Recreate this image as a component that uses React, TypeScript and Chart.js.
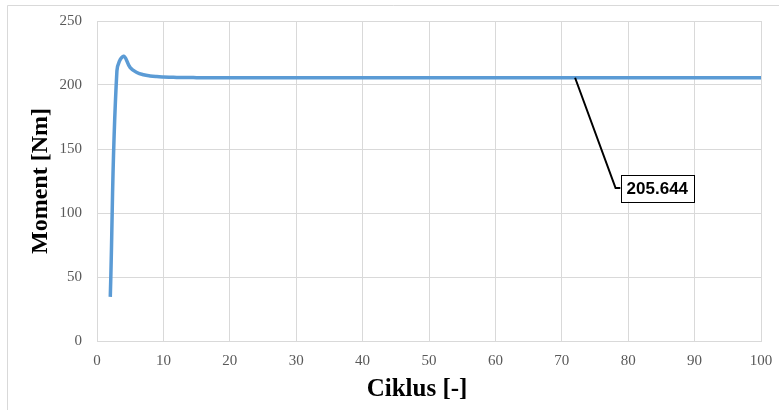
import React, { useEffect, useRef } from "react";
import { Chart, registerables } from "chart.js";

Chart.register(...registerables);

const cycles: number[] = [
  2, 3, 4, 5, 6, 7, 8, 9, 10, 11, 12, 13, 14, 15, 16, 17, 18, 19, 20,
  21, 22, 23, 24, 25, 26, 27, 28, 29, 30, 31, 32, 33, 34, 35, 36, 37, 38, 39, 40,
  41, 42, 43, 44, 45, 46, 47, 48, 49, 50, 51, 52, 53, 54, 55, 56, 57, 58, 59, 60,
  61, 62, 63, 64, 65, 66, 67, 68, 69, 70, 71, 72, 73, 74, 75, 76, 77, 78, 79, 80,
  81, 82, 83, 84, 85, 86, 87, 88, 89, 90, 91, 92, 93, 94, 95, 96, 97, 98, 99, 100,
];

const moment: number[] = [
  34.5, 211.0, 222.5, 213.5, 209.8, 208.0, 207.1, 206.6, 206.3, 206.1, 205.95, 205.85, 205.8, 205.75, 205.72, 205.7, 205.7, 205.68, 205.7,
  205.68, 205.67, 205.67, 205.66, 205.66, 205.66, 205.65, 205.66, 205.65, 205.65, 205.65, 205.66, 205.65, 205.65, 205.64, 205.65, 205.65, 205.64, 205.65, 205.66,
  205.65, 205.64, 205.65, 205.64, 205.65, 205.64, 205.64, 205.65, 205.64, 205.64, 205.65, 205.64, 205.64, 205.64, 205.65, 205.64, 205.64, 205.64, 205.65, 205.64,
  205.64, 205.65, 205.64, 205.64, 205.64, 205.64, 205.65, 205.64, 205.64, 205.64, 205.64, 205.644, 205.64, 205.64, 205.65, 205.64, 205.64, 205.64, 205.64, 205.65,
  205.64, 205.64, 205.64, 205.64, 205.65, 205.64, 205.64, 205.64, 205.64, 205.64, 205.65, 205.64, 205.64, 205.64, 205.64, 205.64, 205.65, 205.64, 205.64, 205.64,
];

const xTicks = { min: 0, max: 100, step: 10 };
const yTicks = { min: 0, max: 250, step: 50 };

const xTitle = "Ciklus [-]";
const yTitle = "Moment [Nm]";

// Callout: which data point, the label text, and the label anchor (data coords)
const calloutPoint = { x: 72, y: 205.644 };
const calloutLabel = "205.644";
const calloutAnchor = { x: 78.1, y: 119.5 };

const GRID = "#d9d9d9";
const TICK = "#595959";

export default function App() {
  const ref = useRef<HTMLCanvasElement | null>(null);

  useEffect(() => {
    document.body.style.margin = "0";
    const canvas = ref.current;
    if (!canvas) return;

    const framePlugin = {
      id: "frame",
      beforeDraw(chart: any) {
        const ctx = chart.ctx;
        ctx.save();
        ctx.fillStyle = "#ffffff";
        ctx.fillRect(0, 0, chart.width, chart.height);
        ctx.strokeStyle = GRID;
        ctx.lineWidth = 1;
        ctx.beginPath();
        ctx.moveTo(7.5, chart.height);
        ctx.lineTo(7.5, 5.5);
        ctx.lineTo(chart.width, 5.5);
        ctx.stroke();
        ctx.restore();
      },
    };

    const xTitlePlugin = {
      id: "xTitle",
      afterDraw(chart: any) {
        const ctx = chart.ctx;
        const area = chart.chartArea;
        ctx.save();
        ctx.font = "bold 25px 'Liberation Serif', serif";
        ctx.fillStyle = "#000000";
        ctx.textAlign = "center";
        ctx.textBaseline = "middle";
        ctx.fillText(xTitle, (area.left + area.right) / 2 - 12, 390);
        ctx.restore();
      },
    };

    const calloutPlugin = {
      id: "callout",
      afterDatasetsDraw(chart: any) {
        const ctx = chart.ctx;
        const xs = chart.scales.x;
        const ys = chart.scales.y;
        const px = xs.getPixelForValue(calloutPoint.x);
        const py = ys.getPixelForValue(calloutPoint.y);
        const ax = xs.getPixelForValue(calloutAnchor.x);
        const ay = ys.getPixelForValue(calloutAnchor.y);
        ctx.save();
        ctx.font = "bold 17px 'Liberation Sans', sans-serif";
        const tw = ctx.measureText(calloutLabel).width;
        const boxL = ax + 5;
        const boxW = tw + 12;
        const boxH = 27;
        ctx.strokeStyle = "#000000";
        ctx.lineWidth = 2;
        ctx.beginPath();
        ctx.moveTo(px, py);
        ctx.lineTo(ax, ay);
        ctx.lineTo(boxL, ay);
        ctx.stroke();
        ctx.fillStyle = "#ffffff";
        ctx.fillRect(boxL, ay - boxH / 2, boxW, boxH);
        ctx.lineWidth = 1;
        ctx.strokeRect(Math.round(boxL) + 0.5, Math.round(ay - boxH / 2) + 0.5, Math.round(boxW), boxH);
        ctx.fillStyle = "#000000";
        ctx.textAlign = "center";
        ctx.textBaseline = "middle";
        ctx.fillText(calloutLabel, boxL + boxW / 2, ay + 1);
        ctx.restore();
      },
    };

    const chart = new Chart(canvas, {
      type: "line",
      data: {
        datasets: [
          {
            data: cycles.map((c, i) => ({ x: c, y: moment[i] })),
            borderColor: "#5B9BD5",
            borderWidth: 3.5,
            pointRadius: 0,
            tension: 0.4,
            fill: false,
          },
        ],
      },
      options: {
        responsive: false,
        animation: false,
        devicePixelRatio: 1,
        layout: { padding: { left: 0, top: 21, right: 18, bottom: 0 } },
        plugins: {
          legend: { display: false },
          tooltip: { enabled: false },
        },
        scales: {
          x: {
            type: "linear",
            min: xTicks.min,
            max: xTicks.max,
            ticks: {
              stepSize: xTicks.step,
              color: TICK,
              padding: 11,
              font: { family: "'Liberation Serif', serif", size: 15 },
              maxRotation: 0,
            },
            grid: { color: GRID, lineWidth: 1, drawTicks: false },
            border: { color: GRID },
            afterFit(scale: any) {
              scale.height = 69;
              scale.paddingLeft = 0;
              scale.paddingRight = 0;
            },
          },
          y: {
            min: yTicks.min,
            max: yTicks.max,
            ticks: {
              stepSize: yTicks.step,
              color: TICK,
              padding: 15,
              font: { family: "'Liberation Serif', serif", size: 15 },
            },
            grid: { color: GRID, lineWidth: 1, drawTicks: false },
            border: { color: GRID },
            title: {
              display: true,
              text: yTitle,
              color: "#000000",
              font: { family: "'Liberation Serif', serif", size: 24, weight: "bold" },
              padding: { top: 26, bottom: 0 },
            },
            afterFit(scale: any) {
              scale.width = 97;
              scale.paddingTop = 0;
              scale.paddingBottom = 0;
            },
          },
        },
      },
      plugins: [framePlugin, xTitlePlugin, calloutPlugin],
    } as any);

    return () => chart.destroy();
  }, []);

  return <canvas ref={ref} width={779} height={410} style={{ display: "block" }} />;
}
